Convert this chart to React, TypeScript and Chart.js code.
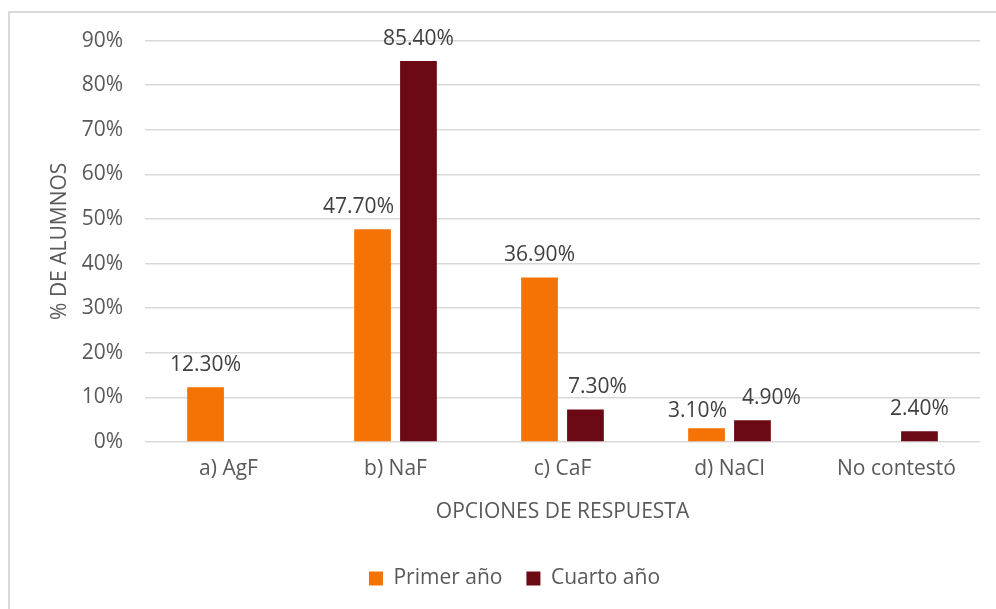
import React, { useEffect, useRef } from "react";
import { Chart, registerables } from "chart.js";

Chart.register(...registerables);

const categories = ["a) AgF", "b) NaF", "c) CaF", "d) NaCl", "No contestó"];
const seriesNames = ["Primer año", "Cuarto año"];
const primerAno: (number | null)[] = [12.3, 47.7, 36.9, 3.1, null];
const cuartoAno: (number | null)[] = [null, 85.4, 7.3, 4.9, 2.4];
const yMin = 0;
const yMax = 90;
const yStep = 10;
const yTitle = "% DE ALUMNOS";
const xTitle = "OPCIONES DE RESPUESTA";

const FONT = "'Open Sans', sans-serif";
const FS = 21;
const ORANGE = "#F57305";
const DARKRED = "#6B0A14";

// small manual nudges of individual value labels (dataset-index), as in the original
const labelNudges: Record<string, [number, number]> = {
  "0-1": [-14, 0],
  "0-3": [-9, 5],
  "1-2": [12, 0],
  "1-3": [19, 0],
};

const labelPlugin = {
  id: "barLabels",
  afterDatasetsDraw(chart: any) {
    const ctx = chart.ctx;
    ctx.save();
    ctx.font = `${FS}px ${FONT}`;
    ctx.fillStyle = "#404040";
    ctx.textAlign = "center";
    ctx.textBaseline = "bottom";
    chart.data.datasets.forEach((ds: any, i: number) => {
      const meta = chart.getDatasetMeta(i);
      meta.data.forEach((el: any, j: number) => {
        const v = ds.data[j];
        if (v === null || v === undefined) return;
        const [dx, dy] = labelNudges[`${i}-${j}`] || [0, 0];
        ctx.fillText(v.toFixed(2) + "%", el.x + dx, el.y - 12 + dy);
      });
    });
    ctx.restore();
  },
};

export default function App() {
  const ref = useRef<HTMLCanvasElement | null>(null);
  useEffect(() => {
    if (!ref.current) return;
    const chart = new Chart(ref.current, {
      type: "bar",
      data: {
        labels: categories,
        datasets: [
          {
            label: seriesNames[0],
            data: primerAno,
            backgroundColor: ORANGE,
            barPercentage: 0.8,
            categoryPercentage: 0.55,
          },
          {
            label: seriesNames[1],
            data: cuartoAno,
            backgroundColor: DARKRED,
            barPercentage: 0.8,
            categoryPercentage: 0.55,
          },
        ],
      },
      options: {
        animation: false,
        responsive: false,
        layout: { padding: { top: 6, right: 0, left: 0, bottom: 10 } },
        plugins: {
          legend: {
            position: "bottom",
            labels: {
              boxWidth: 14,
              boxHeight: 14,
              padding: 24,
              color: "#595959",
              font: { family: FONT, size: FS },
            },
          },
          tooltip: { enabled: false },
        },
        scales: {
          x: {
            grid: { display: false, drawTicks: false },
            border: { display: false },
            ticks: { color: "#595959", font: { family: FONT, size: FS }, padding: 14 },
            title: {
              display: true,
              text: xTitle,
              color: "#595959",
              font: { family: FONT, size: FS },
              padding: { top: 0, bottom: 19 },
            },
            afterFit: (s: any) => {
              s.height = 102;
            },
          },
          y: {
            min: yMin,
            max: yMax,
            grid: { color: "#d9d9d9", lineWidth: 1.5, drawTicks: false },
            border: { display: false },
            ticks: {
              stepSize: yStep,
              color: "#595959",
              font: { family: FONT, size: FS },
              padding: 22,
              callback: (v: any) => v + "%",
            },
            title: {
              display: true,
              text: yTitle,
              color: "#595959",
              font: { family: FONT, size: FS },
              padding: { top: 37, bottom: 0 },
            },
            afterFit: (s: any) => {
              s.width = 135;
            },
          },
          spacer: {
            type: "linear",
            position: "right",
            display: true,
            grid: { display: false, drawTicks: false },
            border: { display: false },
            ticks: { display: false },
            afterFit: (s: any) => {
              s.width = 39;
            },
          },
        },
      },
      plugins: [labelPlugin],
    });
    return () => chart.destroy();
  }, []);
  return (
    <div style={{ position: "fixed", left: 0, top: 0, width: 996, height: 609, overflow: "hidden", background: "#fff" }}>
      <div
        style={{
          position: "absolute",
          left: 8,
          top: 11,
          width: 1080,
          height: 620,
          border: "2px solid #d9d9d9",
          boxSizing: "border-box",
          background: "#fff",
        }}
      >
        <canvas
          ref={ref}
          width={1009}
          height={603}
          style={{ display: "block", width: 1009, height: 603, marginTop: -7 }}
        />
      </div>
    </div>
  );
}
